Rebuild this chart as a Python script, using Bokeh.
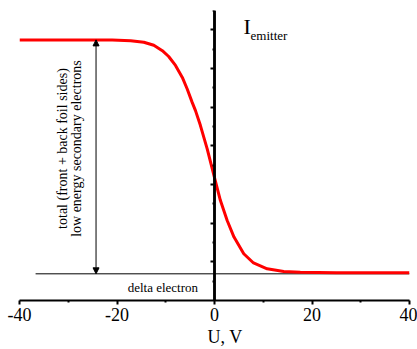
from bokeh.plotting import figure
from bokeh.models import Range1d, FixedTicker, Arrow, NormalHead, Label, LinearAxis, Title
from bokeh.core.properties import value
from bokeh.embed import file_html
from bokeh.resources import INLINE
import math

# Data
U = [-40, -30, -21, -17.2, -14.5, -12.45, -10.7, -9.4, -8.0, -6.6, -5.6, -4.6, -3.9, -2.9,
     -1.5, 0, 1.2, 2.6, 4, 6, 8, 10.8, 14.2, 17.6, 25, 40]
I_emitter = [6.74, 6.74, 6.74, 6.72, 6.68, 6.60, 6.46, 6.31, 6.08, 5.77, 5.47, 5.13, 4.91,
             4.53, 3.92, 3.18, 2.59, 2.07, 1.64, 1.21, 0.97, 0.82, 0.75, 0.73, 0.72, 0.72]
x_ticks = [-40, -20, 0, 20, 40]
x_tick_labels = ["-40", "-20", "0", "20", "40"]
x_minor = [-30, -10, 10, 30]
y_major = [1, 2, 3, 4, 5, 6, 7]
y_minor = [0.5, 1.5, 2.5, 3.5, 4.5, 5.5, 6.5, 7.5]
upper_level = 6.74
delta_level = 0.69
arrow_u = -24.3
text_lines = ["total (front + back foil sides)", "low energy secondary electrons"]

FONT = "Liberation Serif"

p = figure(width=417, height=349, x_range=Range1d(-40, 40), y_range=Range1d(0, 7.5),
           output_backend="svg", toolbar_location=None, y_axis_location=None,
           min_border_left=19, min_border_right=8, min_border_top=10, min_border_bottom=49)
p.outline_line_color = None
p.grid.visible = False
p.background_fill_color = "white"
p.border_fill_color = "white"

# x axis
xa = p.xaxis[0]
xa.ticker = FixedTicker(ticks=x_ticks, minor_ticks=x_minor)
xa.major_label_overrides = {t: s for t, s in zip(x_ticks, x_tick_labels)}
xa.axis_line_width = 2
xa.axis_line_color = "black"
xa.major_tick_line_width = 2
xa.minor_tick_line_width = 2
xa.major_tick_in = 0
xa.major_tick_out = 4
xa.minor_tick_in = 0
xa.minor_tick_out = 2
xa.major_label_text_font = FONT
xa.major_label_text_font_size = "18px"
xa.major_label_text_color = "black"
xa.major_label_standoff = 3

# x axis title, placed below the tick labels
p.add_layout(Title(text="U, V", text_font=FONT, text_font_size="18px",
                   text_font_style="normal", text_color="black",
                   align="left", offset=188, standoff=2), "below")

# y axis at U = 0: label-less ticks (long at integers, short at halves)
for ticks, length in ((y_major, 4), (y_minor, 2)):
    ax = LinearAxis(fixed_location=0, ticker=FixedTicker(ticks=[], minor_ticks=ticks))
    ax.axis_line_width = 2.5
    ax.axis_line_color = "black"
    ax.minor_tick_line_width = 2
    ax.minor_tick_in = 0
    ax.minor_tick_out = length
    ax.major_tick_in = 0
    ax.major_tick_out = 0
    p.add_layout(ax, "left")

# baseline (delta electron level)
p.line([-36.7, 40], [delta_level, delta_level], line_color="black", line_width=1)

# curve
p.line(U, I_emitter, line_color="#ff0000", line_width=3)

# double arrow
p.add_layout(Arrow(x_start=arrow_u, y_start=delta_level, x_end=arrow_u, y_end=upper_level,
                   line_width=1, line_color="black",
                   start=NormalHead(size=6, fill_color="black", line_color="black", line_width=1),
                   end=NormalHead(size=6, fill_color="black", line_color="black", line_width=1)))

# rotated annotation text
p.text(x=[-31.2, -28.3], y=[3.93, 3.93], text=text_lines, angle=math.pi / 2,
       text_font=value(FONT), text_font_size="14px", text_color="black",
       text_align="center", text_baseline="middle")

p.add_layout(Label(x=-10.6, y=0.34, text="delta electron", text_font=FONT,
                   text_font_size="13px", text_color="black",
                   text_align="center", text_baseline="middle"))

p.add_layout(Label(x=5.95, y=7.08, text="I", text_font=FONT, text_font_size="22px",
                   text_color="black", text_align="left", text_baseline="alphabetic"))
p.add_layout(Label(x=7.4, y=6.86, text="emitter", text_font=FONT, text_font_size="13px",
                   text_color="black", text_align="left", text_baseline="alphabetic"))

open("out.html", "w").write(file_html(p, INLINE))
